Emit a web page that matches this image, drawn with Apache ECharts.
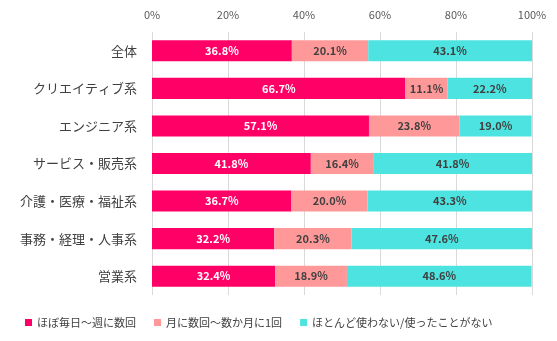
<!DOCTYPE html>
<html><head><meta charset="utf-8">
<script src="https://cdn.jsdelivr.net/npm/echarts@6/dist/echarts.min.js"></script>
<style>html,body{margin:0;padding:0;background:#fff}#c{width:557px;height:341px}</style>
</head><body><div id="c"></div>
<script>
const categories = ['全体','クリエイティブ系','エンジニア系','サービス・販売系','介護・医療・福祉系','事務・経理・人事系','営業系'];
const seriesNames = ['ほぼ毎日～週に数回','月に数回～数か月に1回','ほとんど使わない/使ったことがない'];
const daily = [36.8, 66.7, 57.1, 41.8, 36.7, 32.2, 32.4];
const monthly = [20.1, 11.1, 23.8, 16.4, 20.0, 20.3, 18.9];
const rarely = [43.1, 22.2, 19.0, 41.8, 43.3, 47.6, 48.6];
const xTicks = [0, 20, 40, 60, 80, 100];

const font = '"Noto Sans CJK JP", "Noto Sans", sans-serif';
const colors = ['#FF0066', '#FF9999', '#4DE3E0'];
const labelColors = ['#ffffff', '#404040', '#404040'];
const dataSets = [daily, monthly, rarely];

const chart = echarts.init(document.getElementById('c'));
chart.setOption({
  animation: false,
  textStyle: { fontFamily: font },
  grid: { left: 152, right: 25, top: 32, height: 263, containLabel: false },
  xAxis: {
    type: 'value', position: 'top', min: xTicks[0], max: xTicks[xTicks.length-1], interval: 20,
    axisLine: { show: false }, axisTick: { show: false },
    splitLine: { lineStyle: { color: '#D9D9D9', width: 1 } },
    axisLabel: { formatter: v => v + '%', color: '#595959', fontSize: 11, margin: 12, fontFamily: font }
  },
  yAxis: {
    type: 'category', data: categories, inverse: true,
    axisLine: { show: false }, axisTick: { show: false },
    axisLabel: { color: '#404040', fontSize: 13, margin: 15, fontFamily: font }
  },
  legend: {
    bottom: 8, left: 20, icon: 'rect', itemWidth: 7, itemHeight: 7, itemGap: 18,
    textStyle: { color: '#404040', fontSize: 11, fontFamily: font },
    data: seriesNames
  },
  series: seriesNames.map((name, i) => ({
    name, type: 'bar', stack: 'total', barWidth: '56%',
    data: dataSets[i],
    itemStyle: { color: colors[i] },
    label: {
      show: true, position: 'inside', color: labelColors[i], fontWeight: 'bold',
      fontSize: 11, fontFamily: font, formatter: p => p.value.toFixed(1) + '%'
    }
  }))
});
</script></body></html>
